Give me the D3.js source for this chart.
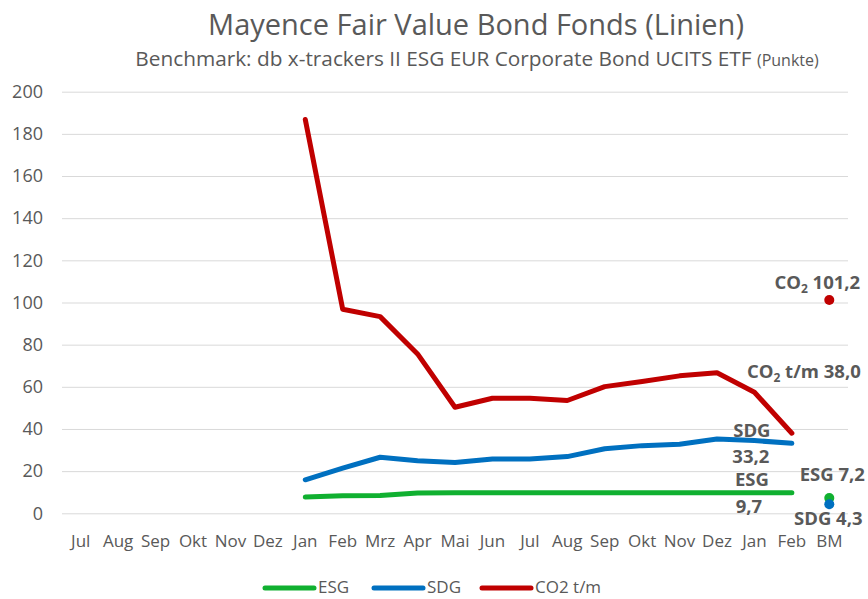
<!DOCTYPE html>
<html lang="de">
  <head>
    <meta charset="utf-8">
    <title>Mayence Fair Value Bond Fonds (Linien)</title>
    <script src="https://d3js.org/d3.v7.min.js"></script>
    <style>
      body { margin: 0; background: #fff; }
      svg text { font-family: "Open Sans", sans-serif; fill: #595959; }
    </style>
  </head>
  <body>
    <div id="chart"></div>
    <script>
      // categories (x axis), last one is the benchmark
      const months = ['Jul', 'Aug', 'Sep', 'Okt', 'Nov', 'Dez', 'Jan', 'Feb', 'Mrz', 'Apr', 'Mai', 'Jun',
                      'Jul', 'Aug', 'Sep', 'Okt', 'Nov', 'Dez', 'Jan', 'Feb', 'BM'];

      // series values, null = no data
      const esg = [null, null, null, null, null, null, 7.7, 8.3, 8.4, 9.6, 9.7, 9.7,
                   9.7, 9.7, 9.7, 9.7, 9.7, 9.7, 9.7, 9.7, null];
      const sdg = [null, null, null, null, null, null, 15.9, 21.4, 26.6, 24.9, 24.1, 25.8,
                   25.8, 26.9, 30.6, 32.1, 32.8, 35.2, 34.5, 33.2, null];
      const co2 = [null, null, null, null, null, null, 186.8, 96.8, 93.3, 75.6, 50.3, 54.6,
                   54.6, 53.5, 60.1, 62.5, 65.2, 66.7, 57.4, 38.0, null];

      // benchmark points
      const esgBM = 7.2, sdgBM = 4.3, co2BM = 101.2;

      const yTicks = [0, 20, 40, 60, 80, 100, 120, 140, 160, 180, 200];

      const width = 868, height = 599;
      const fmt = v => d3.format('.1f')(v).replace('.', ',');

      const svg = d3.select('#chart').append('svg')
          .attr('width', width)
          .attr('height', height);

      const x = d3.scaleBand()
          .domain(d3.range(months.length))
          .range([62, 848]);

      const y = d3.scaleLinear()
          .domain([0, 200])
          .range([513.3, 91.7]);

      const cx = i => x(i) + x.bandwidth() / 2;

      // title
      svg.append('text')
          .attr('x', 476).attr('y', 35)
          .attr('text-anchor', 'middle')
          .style('font-size', '29px')
          .text('Mayence Fair Value Bond Fonds (Linien)');

      const sub = svg.append('text')
          .attr('x', 477).attr('y', 66)
          .attr('text-anchor', 'middle')
          .style('font-size', '20.8px');
      sub.append('tspan').text('Benchmark: db x-trackers II ESG EUR Corporate Bond UCITS ETF ');
      sub.append('tspan').style('font-size', '16px').text('(Punkte)');

      // gridlines + y labels
      const yAxis = d3.axisLeft(y)
          .tickValues(yTicks)
          .tickSize(-(848 - 62))
          .tickPadding(19)
          .tickFormat(d3.format('d'));

      svg.append('g')
          .attr('transform', 'translate(62,0)')
          .call(yAxis)
          .call(g => g.select('.domain').remove())
          .call(g => g.selectAll('.tick line').attr('stroke', '#d9d9d9'))
          .call(g => g.selectAll('.tick text')
              .style('font-size', '18px')
              .style('fill', '#595959'));

      // x labels
      const xAxis = d3.axisBottom(x)
          .tickSize(0)
          .tickPadding(22)
          .tickFormat(i => months[i]);

      svg.append('g')
          .attr('transform', `translate(0,${y(0)})`)
          .call(xAxis)
          .call(g => g.select('.domain').remove())
          .call(g => g.selectAll('.tick text')
              .style('font-size', '17px')
              .style('fill', '#595959'));

      const line = d3.line()
          .defined(d => d != null)
          .x((d, i) => cx(i))
          .y(d => y(d));

      const series = [
        { name: 'ESG', values: esg, color: '#10B030' },
        { name: 'SDG', values: sdg, color: '#0070C0' },
        { name: 'CO2 t/m', values: co2, color: '#C00000' }
      ];

      svg.selectAll('path.series')
          .data(series)
          .join('path')
          .attr('class', 'series')
          .attr('d', d => line(d.values))
          .attr('fill', 'none')
          .attr('stroke', d => d.color)
          .attr('stroke-width', 5)
          .attr('stroke-linejoin', 'round')
          .attr('stroke-linecap', 'round');

      // benchmark dots
      const bm = months.length - 1;
      const dots = [
        { v: co2BM, color: '#C00000' },
        { v: esgBM, color: '#10B030' },
        { v: sdgBM, color: '#0070C0' }
      ];
      svg.selectAll('circle.bm')
          .data(dots)
          .join('circle')
          .attr('class', 'bm')
          .attr('cx', cx(bm))
          .attr('cy', d => y(d.v))
          .attr('r', 5)
          .attr('fill', d => d.color);

      // data labels
      const last = bm - 1;
      const label = (px, py, parts) => {
        const t = svg.append('text')
            .attr('x', px).attr('y', py)
            .attr('text-anchor', 'middle')
            .style('font-size', '18.5px')
            .style('font-weight', 'bold');
        parts.forEach(p => {
          const s = t.append('tspan').text(p.t);
          if (p.sub) s.style('font-size', '12px').attr('dy', 4);
          if (p.up) s.attr('dy', -4);
        });
      };

      label(cx(bm) - 12, y(co2BM) - 11, [{ t: 'CO' }, { t: '2', sub: true }, { t: ' 101,2', up: true }]);
      label(cx(last) + 12, y(co2[last]) - 55, [{ t: 'CO' }, { t: '2', sub: true }, { t: ' t/m ' + fmt(co2[last]), up: true }]);
      label(cx(last) - 40, y(sdg[last]) - 6, [{ t: 'SDG' }]);
      label(cx(last) - 41, y(sdg[last]) + 20, [{ t: fmt(sdg[last]) }]);
      label(cx(last) - 40, y(esg[last]) - 7, [{ t: 'ESG' }]);
      label(cx(last) - 43, y(esg[last]) + 20, [{ t: fmt(esg[last]) }]);
      label(cx(bm) + 3, y(esgBM) - 17, [{ t: 'ESG ' + fmt(esgBM) }]);
      label(cx(bm) - 1, y(sdgBM) + 21, [{ t: 'SDG ' + fmt(sdgBM) }]);

      // legend
      const legX = [265, 374, 482];
      const leg = svg.selectAll('g.legend')
          .data(series)
          .join('g')
          .attr('class', 'legend')
          .attr('transform', (d, i) => `translate(${legX[i]},588)`);
      leg.append('line')
          .attr('x1', 0).attr('x2', 49)
          .attr('stroke', d => d.color)
          .attr('stroke-width', 5)
          .attr('stroke-linecap', 'round');
      leg.append('text')
          .attr('x', 53).attr('y', 5)
          .style('font-size', '17px')
          .text(d => d.name);
    </script>
  </body>
</html>
